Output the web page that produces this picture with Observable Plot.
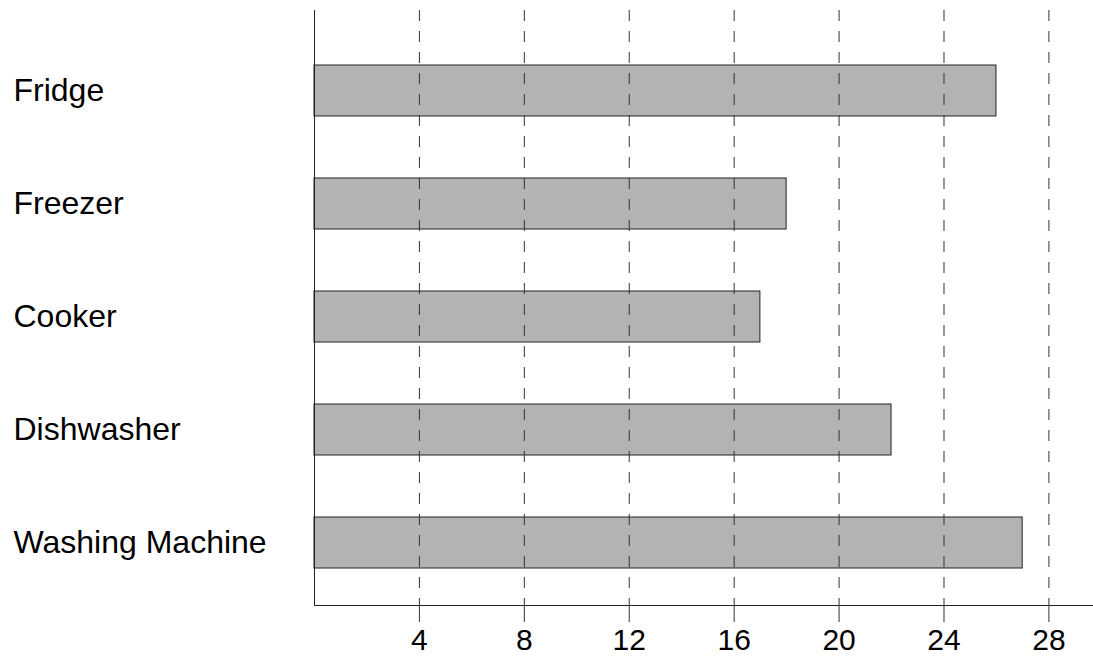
<!DOCTYPE html>
<html>
<head>
<meta charset="utf-8">
<script src="https://cdn.jsdelivr.net/npm/d3@7"></script>
<script src="https://cdn.jsdelivr.net/npm/@observablehq/plot@0.6"></script>
<style>
  html, body { margin: 0; padding: 0; background: #fff; }
  #chart svg { display: block; }
</style>
</head>
<body>
<div id="chart"></div>
<script>
const categories = ["Fridge", "Freezer", "Cooker", "Dishwasher", "Washing Machine"];
const values = [26, 18, 17, 22, 27];
const xTicks = [4, 8, 12, 16, 20, 24, 28];

const data = categories.map((c, i) => ({category: c, value: values[i]}));
const font = "Liberation Sans, Arial, Helvetica, sans-serif";

const chart = Plot.plot({
  width: 1093,
  height: 659,
  marginLeft: 314,
  marginRight: 0,
  marginTop: 10,
  marginBottom: 54,
  style: {fontFamily: font, background: "#fff", color: "#000"},
  x: {domain: [0, 29.7]},
  y: {type: "band", domain: categories, paddingInner: 0.55, paddingOuter: 0.396, align: 0.6, axis: null},
  marks: [
    Plot.barX(data, {x: "value", y: "category", fill: "#b3b3b3", stroke: "#222", strokeWidth: 1}),
    Plot.gridX(xTicks, {stroke: "#333", strokeOpacity: 1, strokeWidth: 1, strokeDasharray: "11,10"}),
    Plot.ruleX([0], {stroke: "#222", strokeWidth: 1}),
    Plot.frame({anchor: "bottom", stroke: "#222", strokeWidth: 1}),
    Plot.axisX(xTicks, {tickSize: 17, tickPadding: 6, fontSize: 30, fill: "#000", stroke: "#333", tickFormat: d => String(d), label: null}),
    Plot.text(data, {y: "category", text: "category", frameAnchor: "left", textAnchor: "start", dx: -301, fontSize: 32, fill: "#000"})
  ]
});
document.getElementById("chart").appendChild(chart);
</script>
</body>
</html>
